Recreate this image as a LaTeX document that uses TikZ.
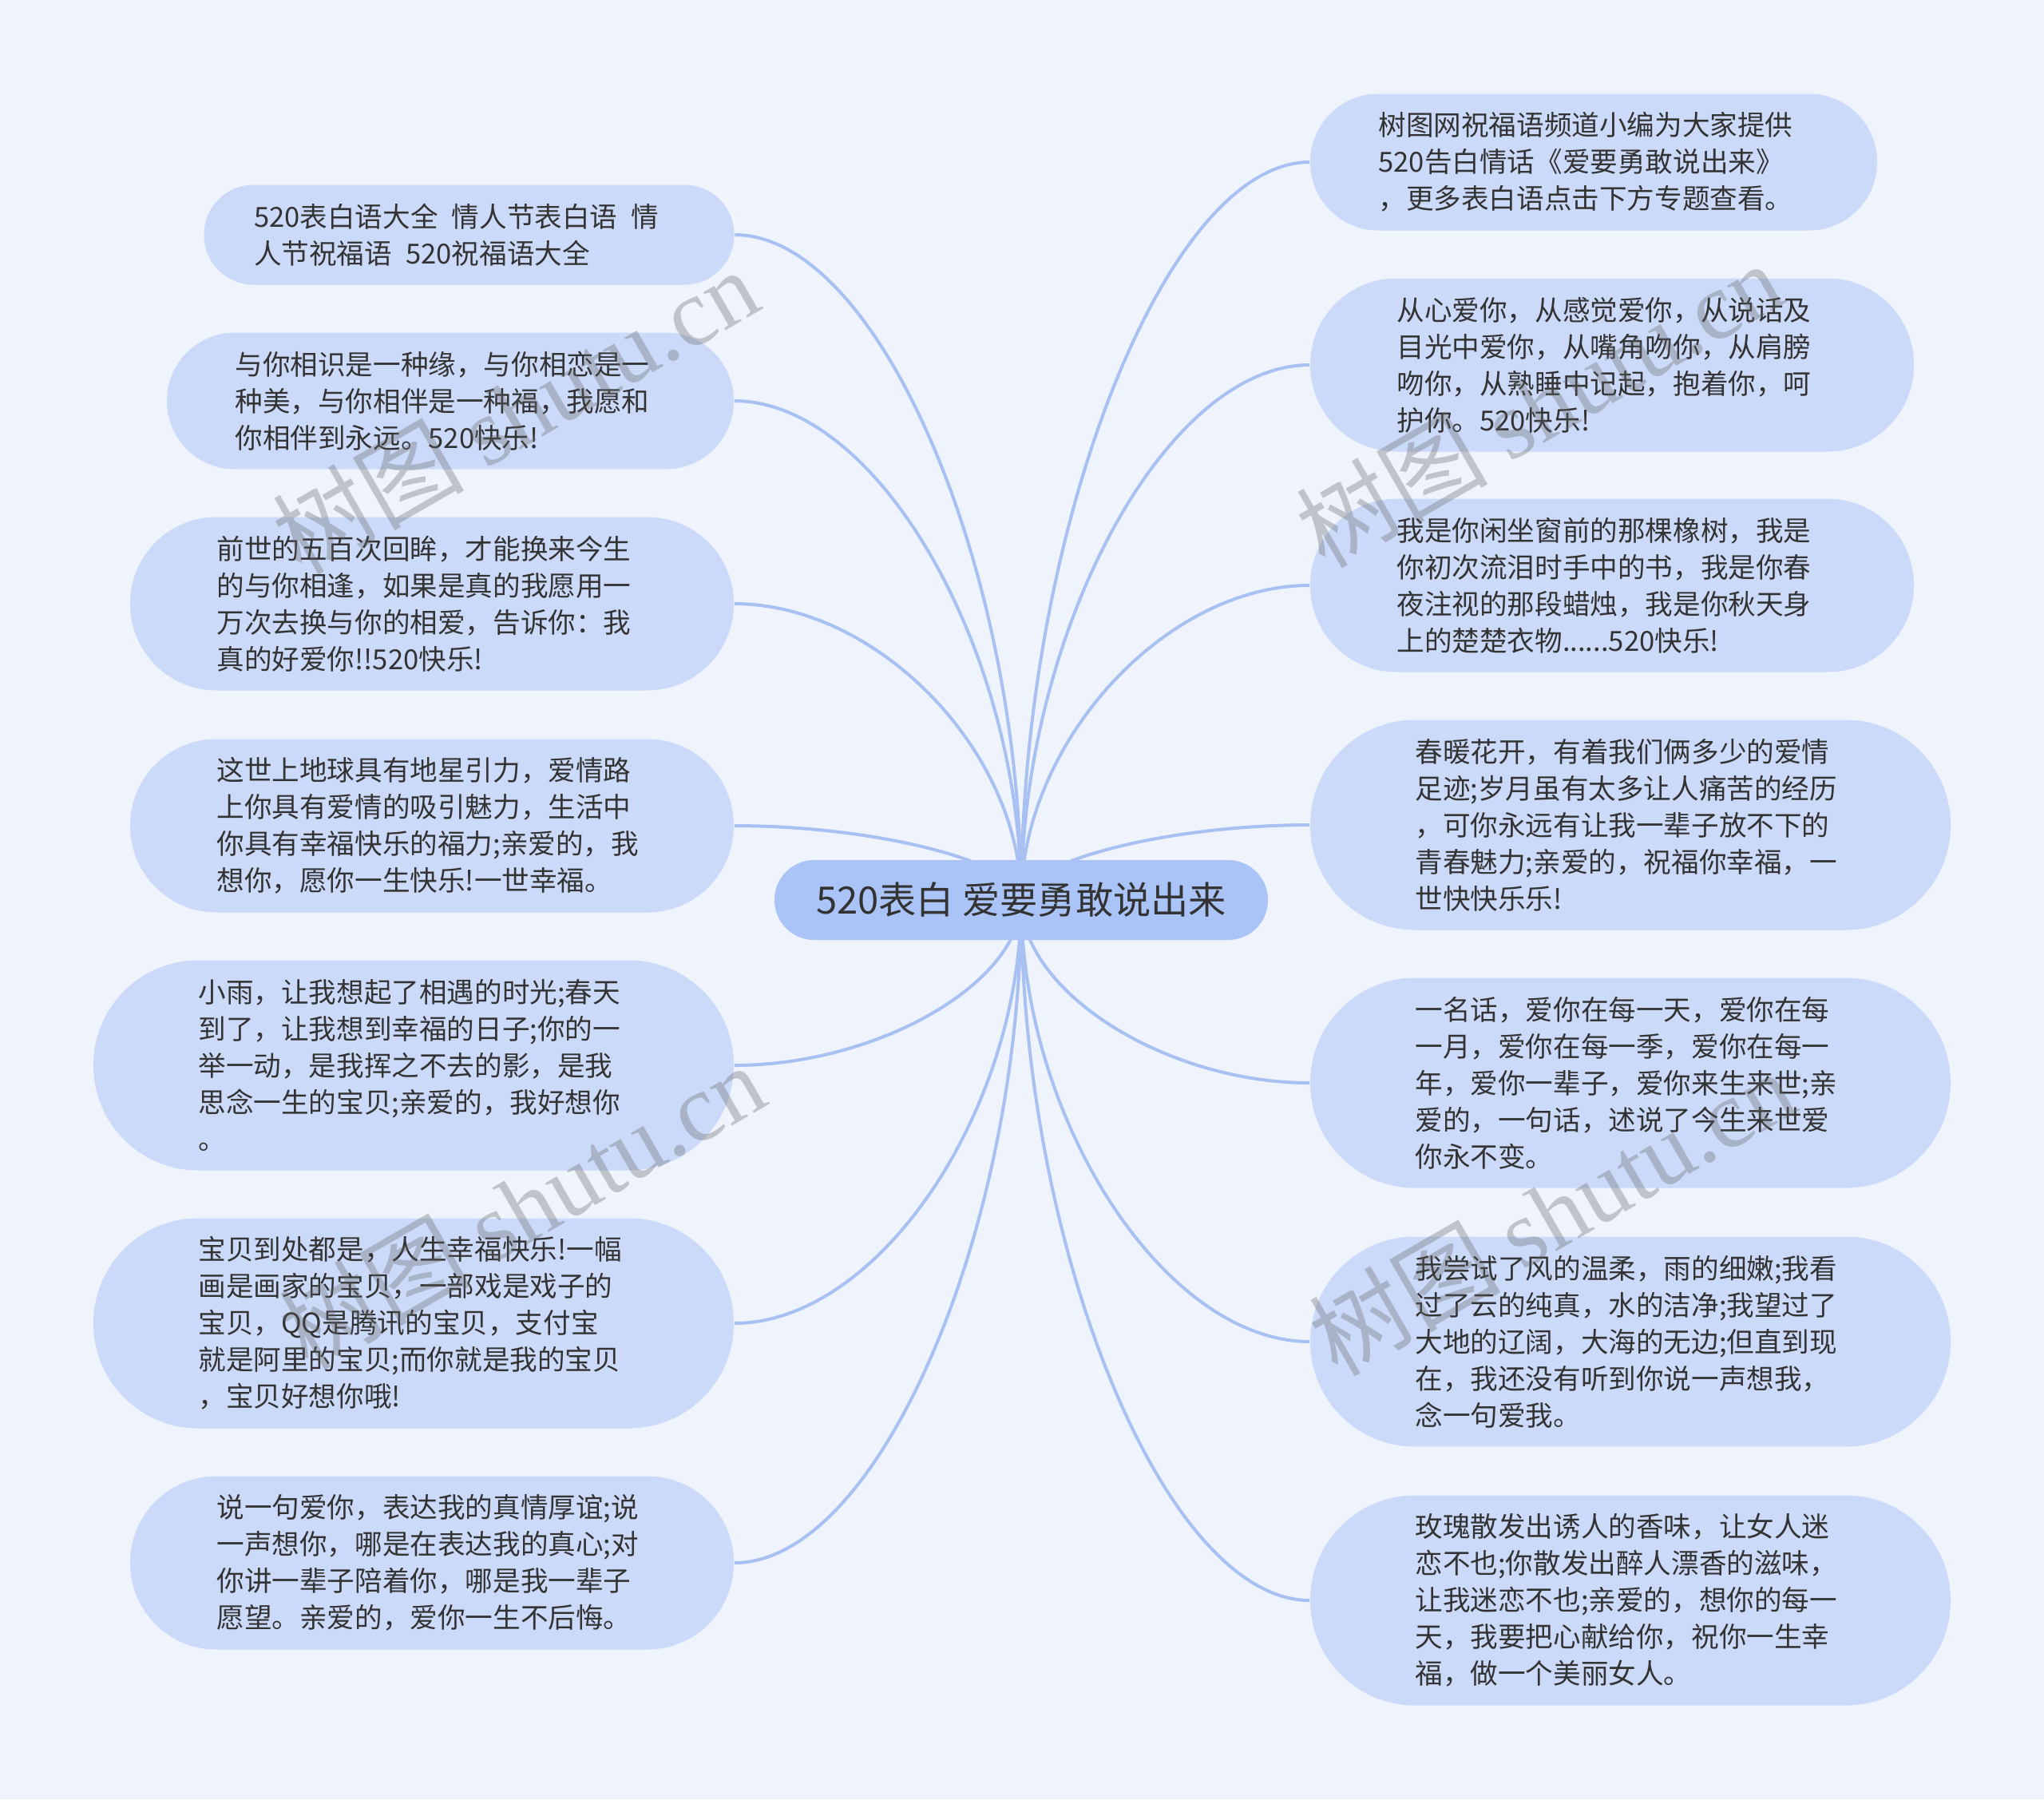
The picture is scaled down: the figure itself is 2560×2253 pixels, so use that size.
\documentclass[tikz,border=0pt]{standalone}
\usepackage{fontspec}
\setmainfont{Noto Sans CJK SC}
\newfontfamily\wmfont{Liberation Serif}
\usetikzlibrary{calc,backgrounds}
\definecolor{bgc}{RGB}{238,243,252}
\definecolor{leafc}{RGB}{204,218,250}
\definecolor{rootc}{RGB}{170,196,248}
\definecolor{linec}{RGB}{168,192,242}
\definecolor{txtc}{RGB}{51,51,51}
\definecolor{wmc}{RGB}{100,100,100}
\newcommand\mmconn[2]{\draw[conn] (#1) .. controls ($(#1)!0.5!(#1 -| #2)$) and ($(#2)!0.5!(#1 -| #2)$) .. (#2);}
\begin{document}
\begin{tikzpicture}[x=0.25pt,y=-0.25pt,
  leaf/.style={fill=leafc, text=txtc, text width=134.75pt, align=left, inner ysep=0pt,
    font=\fontsize{8.65pt}{11.5pt}\selectfont},
  lines2/.style={leaf, minimum height=31.25pt, inner xsep=15.625pt, rounded corners=15.5pt},
  lines3/.style={leaf, minimum height=42.75pt, inner xsep=21.375pt, rounded corners=21.3pt},
  lines4/.style={leaf, minimum height=54.25pt, inner xsep=27.125pt, rounded corners=27pt},
  lines5/.style={leaf, minimum height=65.75pt, inner xsep=32.875pt, rounded corners=32.8pt},
  rootbox/.style={fill=rootc, text=txtc, minimum width=154.5pt, minimum height=25pt,
    inner sep=0pt, rounded corners=12.4pt, font=\fontsize{11.8pt}{14pt}\selectfont},
  conn/.style={draw=linec, line width=1pt},
  wm/.style={text=wmc, opacity=0.33, rotate=30, inner sep=0pt, font=\fontsize{30pt}{32pt}\selectfont}
]
\useasboundingbox (0,0) rectangle (2560,2253);

% root
\node[rootbox] (c) at (1279,1127) {520表白 爱要勇敢说出来};

% left nodes
\node[lines2] (L1) at (587.5,294) {520表白语大全\hspace{0.5em}情人节表白语\hspace{0.5em}情\\人节祝福语\hspace{0.5em}520祝福语大全};
\node[lines3] (L2) at (564,502) {与你相识是一种缘，与你相恋是一\\种美，与你相伴是一种福，我愿和\\你相伴到永远。520快乐!};
\node[lines4] (L3) at (541,756) {前世的五百次回眸，才能换来今生\\的与你相逢，如果是真的我愿用一\\万次去换与你的相爱，告诉你：我\\真的好爱你!!520快乐!};
\node[lines4] (L4) at (541,1034) {这世上地球具有地星引力，爱情路\\上你具有爱情的吸引魅力，生活中\\你具有幸福快乐的福力;亲爱的，我\\想你，愿你一生快乐!一世幸福。};
\node[lines5] (L5) at (518,1334) {小雨，让我想起了相遇的时光;春天\\到了，让我想到幸福的日子;你的一\\举一动，是我挥之不去的影，是我\\思念一生的宝贝;亲爱的，我好想你\\。};
\node[lines5] (L6) at (518,1657) {宝贝到处都是，人生幸福快乐!一幅\\画是画家的宝贝，一部戏是戏子的\\宝贝，QQ是腾讯的宝贝，支付宝\\就是阿里的宝贝;而你就是我的宝贝\\，宝贝好想你哦!};
\node[lines4] (L7) at (541,1957) {说一句爱你，表达我的真情厚谊;说\\一声想你，哪是在表达我的真心;对\\你讲一辈子陪着你，哪是我一辈子\\愿望。亲爱的，爱你一生不后悔。};

% right nodes
\node[lines3] (R1) at (1996,203) {树图网祝福语频道小编为大家提供\\520告白情话《爱要勇敢说出来》\\，更多表白语点击下方专题查看。};
\node[lines4] (R2) at (2019,457) {从心爱你，从感觉爱你，从说话及\\目光中爱你，从嘴角吻你，从肩膀\\吻你，从熟睡中记起，抱着你，呵\\护你。520快乐!};
\node[lines4] (R3) at (2019,733) {我是你闲坐窗前的那棵橡树，我是\\你初次流泪时手中的书，我是你春\\夜注视的那段蜡烛，我是你秋天身\\上的楚楚衣物......520快乐!};
\node[lines5] (R4) at (2042,1033) {春暖花开，有着我们俩多少的爱情\\足迹;岁月虽有太多让人痛苦的经历\\，可你永远有让我一辈子放不下的\\青春魅力;亲爱的，祝福你幸福，一\\世快快乐乐!};
\node[lines5] (R5) at (2042,1356) {一名话，爱你在每一天，爱你在每\\一月，爱你在每一季，爱你在每一\\年，爱你一辈子，爱你来生来世;亲\\爱的，一句话，述说了今生来世爱\\你永不变。};
\node[lines5] (R6) at (2042,1680) {我尝试了风的温柔，雨的细嫩;我看\\过了云的纯真，水的洁净;我望过了\\大地的辽阔，大海的无边;但直到现\\在，我还没有听到你说一声想我，\\念一句爱我。};
\node[lines5] (R7) at (2042,2004) {玫瑰散发出诱人的香味，让女人迷\\恋不也;你散发出醉人漂香的滋味，\\让我迷恋不也;亲爱的，想你的每一\\天，我要把心献给你，祝你一生幸\\福，做一个美丽女人。};

\begin{scope}[on background layer]
  \fill[bgc] (0,0) rectangle (2560,2253);
  \foreach \n in {L1,L2,L3,L4,L5,L6,L7} {\mmconn{\n.east}{c.center}}
  \foreach \n in {R1,R2,R3,R4,R5,R6,R7} {\mmconn{\n.west}{c.center}}
\end{scope}

% watermarks
\node[wm] (wm1) at (645,514) {树图 {\wmfont shutu.cn}};
\node[wm] (wm2) at (1927,506) {树图 {\wmfont shutu.cn}};
\node[wm] (wm3) at (653,1510) {树图 {\wmfont shutu.cn}};
\node[wm] (wm4) at (1943,1518) {树图 {\wmfont shutu.cn}};
\end{tikzpicture}
\end{document}
